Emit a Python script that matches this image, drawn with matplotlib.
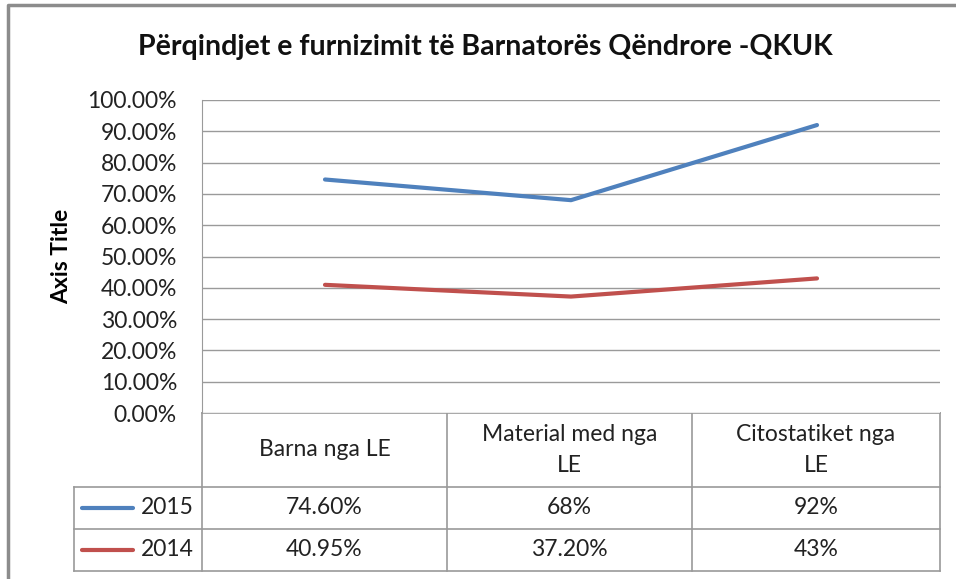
import matplotlib
matplotlib.use("Agg")
import matplotlib.pyplot as plt
from matplotlib.lines import Line2D
from matplotlib.ticker import PercentFormatter

# ----------------------------------
# Data
# ----------------------------------
categories = ["Barna nga LE", "Material med nga\nLE", "Citostatiket nga\nLE"]
series_names = ["2015", "2014"]
values_2015 = [74.60, 68.0, 92.0]
values_2014 = [40.95, 37.20, 43.0]
labels_2015 = ["74.60%", "68%", "92%"]
labels_2014 = ["40.95%", "37.20%", "43%"]
colors = ["#4F81BD", "#C0504D"]

TITLE = "Përqindjet e furnizimit të Barnatorës Qëndrore -QKUK"
FONT = "Lato"
GRID = "#9a9a9a"
FS = 16.5

# ----------------------------------
# Figure / plot area (pixel layout)
# ----------------------------------
W, H = 956, 579
fig = plt.figure(figsize=(W / 100, H / 100), dpi=100)
fig.patch.set_facecolor("white")

X0, X1 = 202, 940      # plot area left/right
Y0, Y1 = 100, 413      # plot area top/bottom (100% / 0%)
ax = fig.add_axes([X0 / W, 1 - Y1 / H, (X1 - X0) / W, (Y1 - Y0) / H])

xs = [i + 0.5 for i in range(len(categories))]
ax.plot(xs, values_2015, color=colors[0], lw=3, solid_capstyle="round")
ax.plot(xs, values_2014, color=colors[1], lw=3, solid_capstyle="round")

ax.set_xlim(0, len(categories))
ax.set_ylim(0, 100)
ax.set_yticks(range(0, 101, 10))
ax.yaxis.set_major_formatter(PercentFormatter(decimals=2))
ax.set_xticks([])
ax.grid(axis="y", color=GRID, lw=1)
ax.set_axisbelow(True)
for s in ["top", "right", "bottom"]:
    ax.spines[s].set_visible(False)
ax.spines["left"].set_color(GRID)
ax.tick_params(axis="y", length=0, pad=18, labelsize=FS, labelcolor="#222222")
for lbl in ax.get_yticklabels():
    lbl.set_fontfamily(FONT)
ax.set_ylabel("Axis Title", fontfamily=FONT, fontsize=FS, fontweight="bold")
ax.yaxis.set_label_coords((72 - X0) / (X1 - X0), 0.5)

# ----------------------------------
# Overlay in pixel coords: frame, title, data table
# ----------------------------------
ov = fig.add_axes([0, 0, 1, 1], zorder=-1)
ov.set_xlim(0, W)
ov.set_ylim(H, 0)
ov.axis("off")

# chart frame
ov.plot([8, 8, W], [H, 5, 5], color="#8c8c8c", lw=2.5)

ov.text(485, 47, TITLE, ha="center", va="center", fontsize=20.5,
        fontweight="bold", fontfamily=FONT, color="#111111")

# data table
col_x = [74, 202, 447, 692, 940]
row_y = [413, 487, 529, 571]
tab = dict(color=GRID, lw=1.2)
for x in col_x[1:]:
    ov.plot([x, x], [row_y[0], row_y[-1]], **tab)
ov.plot([col_x[0], col_x[0]], [row_y[1], row_y[-1]], **tab)
ov.plot([col_x[1], col_x[-1]], [row_y[0], row_y[0]], **tab)
for y in row_y[1:]:
    ov.plot([col_x[0], col_x[-1]], [y, y], **tab)

txt = dict(ha="center", va="center", fontsize=FS, fontfamily=FONT,
           color="#222222", linespacing=1.55)
for i, cat in enumerate(categories):
    cx = (col_x[i + 1] + col_x[i + 2]) / 2
    ov.text(cx, (row_y[0] + row_y[1]) / 2, cat, **txt)
    ov.text(cx, (row_y[1] + row_y[2]) / 2, labels_2015[i], **txt)
    ov.text(cx, (row_y[2] + row_y[3]) / 2, labels_2014[i], **txt)

for r, (name, c) in enumerate(zip(series_names, colors)):
    cy = (row_y[r + 1] + row_y[r + 2]) / 2
    ov.add_line(Line2D([82, 133], [cy, cy], color=c, lw=3, solid_capstyle="round"))
    ov.text(194, cy, name, ha="right", va="center", fontsize=FS,
            fontfamily=FONT, color="#222222")

fig.savefig("out.png", dpi=100)
